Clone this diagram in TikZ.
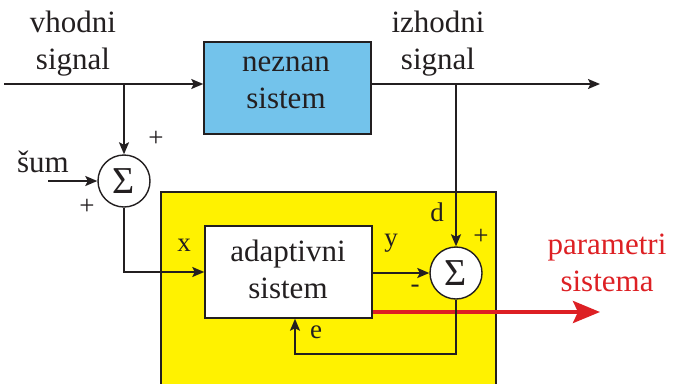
\documentclass[tikz,border=0pt]{standalone}
\usepackage{fontspec}
\setmainfont{Liberation Serif}
\usetikzlibrary{arrows.meta}
\definecolor{blueF}{RGB}{115,195,235}
\definecolor{yellowF}{RGB}{255,242,0}
\definecolor{redA}{RGB}{221,32,36}
\definecolor{darkL}{RGB}{35,31,32}
\begin{document}
\begin{tikzpicture}[x=1pt,y=-1pt,
  wire/.style={draw=darkL,line width=1.8pt,-{Stealth[length=12pt,width=10pt,inset=2.5pt]}},
  blk/.style={draw=darkL,line width=1.5pt,minimum width=167pt,minimum height=92pt,inner sep=0pt},
  sumnode/.style={circle,draw=darkL,line width=1.4pt,fill=white,minimum size=52pt,inner sep=0pt,font=\fontsize{38}{40}\selectfont,text=darkL},
  lbl/.style={align=center,inner sep=0pt,font=\fontsize{31}{37}\selectfont,text=darkL},
  sml/.style={inner sep=0pt,font=\fontsize{27}{30}\selectfont,text=darkL}]
\useasboundingbox (0,0) rectangle (674,383);
% yellow frame
\fill[yellowF] (161,192) rectangle (496,384);
\draw[darkL,line width=1.5pt] (161,384) -- (161,192) -- (496,192) -- (496,384);
% blocks
\node[blk,fill=blueF] (unk) at (287.5,88) {};
\node[blk,fill=white] (ad) at (288.5,272) {};
\node[lbl] (unkt) at (286,83) {neznan\\sistem};
\node[lbl] (adt) at (288,269) {adaptivni\\sistem};
\node[sumnode] (s1) at (124,181) {};
\node[sumnode] (s2) at (456,273) {};
\node[inner sep=0pt,font=\fontsize{38}{40}\selectfont,text=darkL] (s1t) at (124,181) {Σ};
\node[inner sep=0pt,font=\fontsize{38}{40}\selectfont,text=darkL] (s2t) at (456,273) {Σ};
% coordinates
\coordinate (in) at (4,84);
\coordinate (b1) at (124,84);
\coordinate (b2) at (456,84);
\coordinate (out) at (600,84);
\coordinate (nz) at (48,181);
\coordinate (e1) at (456,354);
\coordinate (pout) at (600,312);
% text
\node[lbl] (vin) at (73,44) {vhodni\\signal};
\node[lbl] (vout) at (438,44) {izhodni\\signal};
\node[lbl,text=redA] (par) at (607,263) {parametri\\sistema};
\node[lbl] (sum) at (43,162) {šum};
\node[sml] (lx) at (184,245) {x};
\node[sml] (ly) at (391,243) {y};
\node[sml] (ld) at (437,212) {d};
\node[sml] (le) at (316,332) {e};
\node[sml] (p1) at (156,139) {+};
\node[sml] (p2) at (87,207) {+};
\node[sml] (p3) at (481,237) {+};
\node[sml] (m1) at (415,289) {-};
% connectors
\draw[draw=redA,line width=4pt,-{Stealth[length=27pt,width=22pt,inset=5pt]}] (pout -| ad.east) -- (pout);
\draw[wire] (in) -- (in -| unk.west);
\draw[wire] (in -| unk.east) -- (out);
\draw[wire] (b1) -- (s1.north);
\draw[wire] (nz) -- (s1.west);
\draw[wire] (s1.south) |- (ad.west);
\draw[wire] (b2) -- (s2.north);
\draw[wire] (ad.east |- s2) -- (s2.west);
\draw[wire] (s2.south) -- (e1) -| ([xshift=6.5pt]ad.south);
\end{tikzpicture}
\end{document}
